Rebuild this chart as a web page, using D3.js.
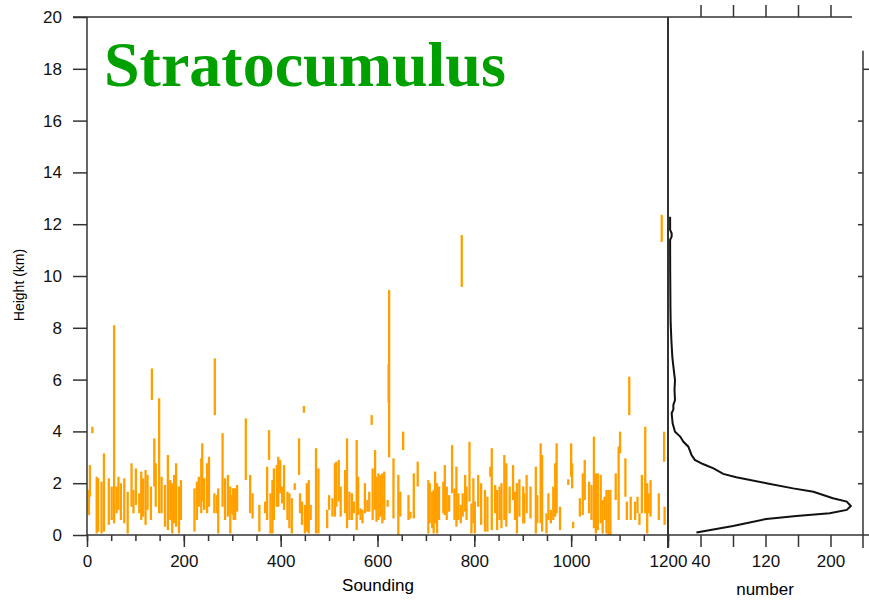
<!DOCTYPE html>
<html>
<head>
<meta charset="utf-8">
<style>
    body { margin: 0; background: #fff; }
    svg { display: block; }
    .axis path, .axis line { stroke: #333; stroke-width: 1.5; }
    .axis text { font-family: "Liberation Sans", Arial, sans-serif; font-size: 17px; fill: #111; }
</style>
</head>
<body>
<svg width="869" height="600"></svg>

<script src="https://d3js.org/d3.v7.min.js"></script>
<script>
// cloud layers per sounding: sounding number, base (km), top (km)
let barSounding = [4,6,11,20,23,30,35,45,51,56,61,65,70,77,84,92,96,101,108,112,116,121,125,132,134,139,142,149,154,161,
    167,172,176,180,184,190,194,222,227,231,236,238,242,248,252,263,264,268,271,280,285,291,296,297,302,303,306,310,328,337,
    342,356,368,372,376,379,383,386,392,395,399,403,407,414,418,423,429,438,440,444,448,450,454,458,462,473,478,496,500,507,
    512,515,520,524,533,537,542,547,551,557,560,565,569,574,579,583,588,590,595,598,602,606,610,614,621,623,624,633,643,647,
    653,664,668,675,683,705,708,713,716,719,723,727,736,739,743,748,754,759,763,767,772,774,776,781,784,790,794,798,801,808,
    814,822,827,833,836,843,847,852,856,862,866,873,880,884,888,893,901,903,908,916,927,930,937,940,949,953,958,963,967,970,
    977,994,1000,1002,1004,1018,1024,1028,1037,1042,1047,1051,1055,1061,1065,1069,1073,1077,1081,1092,1098,1101,1112,1115,1120,1123,1132,1137,1141,1146,
    1153,1157,1160,1164,1181,1187,1192,1193]
let barBase = [0.77,1.48,3.93,0.06,0.13,0.06,0.13,0.39,0.58,0.45,0.84,0.97,0.58,0.45,0.06,1.09,0.84,1.16,0.84,0.58,0.71,0.39,0.97,0.58,5.21,1.87,1.09,0.84,0.84,0.32,
    0.19,0.58,0.06,0.45,0.32,0.06,0.58,0.13,0.58,1.09,0.84,1.29,0.97,0.84,1.09,0.84,4.63,0.84,0.06,1.09,0.58,0.71,0.06,0.84,0.77,0.58,0.58,0.90,2.12,0.84,
    0.64,0.13,0.84,0.58,2.90,0.06,0.06,0.58,1.09,1.09,1.61,1.22,0.97,0.58,0.26,0.06,1.74,2.32,0.84,0.39,4.72,0.06,0.13,0.06,0.58,0.06,0.06,0.26,0.97,0.71,
    0.71,1.09,1.29,0.71,0.84,0.26,0.58,0.58,0.84,0.19,0.77,0.58,0.45,0.84,0.90,0.90,4.25,0.58,0.97,0.51,0.58,0.71,0.45,0.58,1.09,5.10,3.00,0.64,0.00,0.71,
    3.28,0.58,0.64,0.64,1.87,0.06,0.45,0.26,0.06,0.45,0.06,0.58,0.84,0.77,0.58,0.90,1.61,0.58,0.32,0.58,0.45,9.58,0.71,0.90,0.58,1.29,0.06,0.45,0.06,1.09,
    0.39,0.13,0.13,2.25,0.19,0.84,0.19,0.58,0.26,0.58,0.32,0.84,1.35,0.58,0.06,0.71,0.45,0.45,0.84,0.64,0.06,0.45,0.45,0.13,0.06,0.58,0.45,0.58,0.71,0.84,
    0.19,1.93,2.25,1.80,0.26,0.71,0.77,1.35,0.84,0.58,0.26,0.06,0.19,0.45,0.06,0.58,0.06,0.00,0.00,1.35,0.58,3.15,1.48,0.58,4.63,0.58,0.58,0.84,0.39,0.84,
    0.84,0.06,0.84,0.71,0.58,11.32,2.83,0.39]
let barTop = [1.74,2.70,4.18,2.25,2.19,2.06,3.15,2.19,1.87,8.10,1.87,2.25,2.00,2.19,1.67,2.77,1.74,2.57,1.61,2.45,2.19,2.51,2.32,1.87,6.43,3.73,2.77,5.28,2.25,1.93,
    3.09,2.12,2.00,2.32,2.77,1.87,2.12,1.80,2.06,2.25,2.96,3.54,2.19,2.77,3.02,1.61,6.82,1.54,1.80,3.93,2.19,2.32,1.87,1.54,1.80,1.80,1.80,1.93,4.50,2.32,
    1.61,1.16,1.29,2.64,4.05,1.61,2.12,2.57,2.70,3.02,2.90,1.87,2.70,1.67,1.61,1.42,2.00,3.73,1.61,1.29,4.98,1.16,2.00,2.12,1.16,3.35,2.57,0.97,1.54,1.42,
    2.77,2.83,2.90,1.87,2.51,3.73,1.67,1.61,1.29,3.67,2.25,1.03,0.97,2.00,1.35,1.67,4.63,2.57,3.28,2.25,2.38,2.32,2.38,2.45,1.35,6.60,9.46,2.96,2.32,1.67,
    3.99,1.54,0.90,2.38,2.83,2.12,2.00,1.67,1.74,2.45,2.00,1.87,2.06,2.70,1.87,1.54,3.47,1.80,2.64,1.61,1.16,11.58,1.61,2.32,1.87,3.60,1.22,2.19,1.29,2.32,
    2.00,1.74,1.48,2.64,3.35,1.93,1.74,1.87,2.00,3.09,2.77,1.87,2.70,1.67,2.00,2.15,1.87,1.61,2.32,1.87,2.64,1.54,3.54,3.09,0.84,1.61,0.97,1.87,2.77,3.54,
    1.09,2.15,3.54,2.77,0.51,1.42,2.38,2.90,2.06,1.93,3.80,2.38,2.38,2.32,1.35,1.48,1.74,1.74,1.74,2.38,3.41,3.99,2.96,1.29,6.11,1.48,1.29,1.48,0.84,2.32,
    4.18,2.00,1.61,2.12,1.61,12.36,3.99,1.09]

// number of cloud occurrences by height
let profileHeight = [0.10,0.35,0.62,0.73,0.84,0.97,1.12,1.29,1.42,1.67,1.80,2.00,2.23,2.36,2.57,2.74,2.90,3.09,3.41,3.60,
    3.80,3.99,4.31,4.70,4.85,5.02,5.21,5.60,5.98,6.40,6.88,7.50,8.17,8.80,9.33,10.2,11.13,11.40,11.52,11.65,11.78,12.29]
let profileNumber = [35,80,121,158,199,220,225,220,203,179,154,121,84,68,56,43,33,29,25,19,
    15,8.6,5.7,4.5,6.6,6.6,8.6,8.0,8.6,7.0,5.3,4.2,3.3,3.0,2.9,2.7,2.6,2.6,4.5,4.5,2.6,2.6]

let yTicks = [0,2,4,6,8,10,12,14,16,18,20]
let xMajor = [0,200,400,600,800,1000,1200]
let xMinor = d3.range(0, 1201, 50)
let nTicks = [40,80,120,160,200]
let nLabels = [40,120,200]

let svg = d3.select("svg")

let x = d3.scaleLinear().domain([0, 1200]).range([87, 668])
let y = d3.scaleLinear().domain([0, 20]).range([535, 17])
let xn = d3.scaleLinear().domain([0, 240]).range([668, 863])

// bars
svg.append("g")
    .selectAll("line")
    .data(barSounding)
    .join("line")
    .attr("x1", d => x(d))
    .attr("x2", d => x(d))
    .attr("y1", (d, i) => y(barBase[i]))
    .attr("y2", (d, i) => y(barTop[i]))
    .style("stroke", "#ffa000")
    .style("stroke-width", 2.3)

// left axis
let yAxis = svg.append("g").attr("class", "axis")
    .attr("transform", "translate(87,0)")
    .call(d3.axisLeft(y).tickValues(yTicks).tickSize(14).tickSizeOuter(0).tickPadding(11))
yAxis.select(".domain").remove()

// bottom axis, minor then major
let xMin = svg.append("g").attr("class", "axis")
    .attr("transform", "translate(0,535)")
    .call(d3.axisBottom(x).tickValues(xMinor).tickSize(6).tickFormat(""))
xMin.select(".domain").remove()
let xAx = svg.append("g").attr("class", "axis")
    .attr("transform", "translate(0,535)")
    .call(d3.axisBottom(x).tickValues(xMajor).tickSize(12).tickPadding(8).tickFormat(d3.format("d")))
xAx.select(".domain").remove()

// right panel bottom axis
let nAx = svg.append("g").attr("class", "axis")
    .attr("transform", "translate(0,535)")
    .call(d3.axisBottom(xn).tickValues(nTicks).tickSize(12).tickPadding(8)
        .tickFormat(d => nLabels.includes(d) ? d : ""))
nAx.select(".domain").remove()

// right panel top ticks
let nTop = svg.append("g").attr("class", "axis")
    .attr("transform", "translate(0,17)")
    .call(d3.axisTop(xn).tickValues(nTicks).tickSize(12).tickFormat(""))
nTop.select(".domain").remove()

// frame lines
let frame = svg.append("g").style("stroke", "#333").style("stroke-width", 1.5)
frame.append("line").attr("x1", 87).attr("x2", 87).attr("y1", 17).attr("y2", 535)
frame.append("line").attr("x1", 73).attr("x2", 852).attr("y1", 17).attr("y2", 17)
frame.append("line").attr("x1", 87).attr("x2", 869).attr("y1", 535).attr("y2", 535)
frame.append("line").attr("x1", 668).attr("x2", 668).attr("y1", 17).attr("y2", 548).style("stroke-width", 2)
frame.append("line").attr("x1", xn(240)).attr("x2", xn(240)).attr("y1", y(18.7)).attr("y2", 548)

// inner ticks on right edge
let rAx = svg.append("g").attr("class", "axis")
    .attr("transform", `translate(${xn(240)},0)`)
    .call(d3.axisLeft(y).tickValues([2,4,6,8,10,12,14,16]).tickSize(5).tickFormat(""))
rAx.select(".domain").remove()
let rAx2 = svg.append("g").attr("class", "axis")
    .attr("transform", `translate(${xn(240)},0)`)
    .call(d3.axisRight(y).tickValues([18]).tickSize(6).tickFormat(""))
rAx2.select(".domain").remove()

// profile line
let line = d3.line()
    .x((d, i) => xn(profileNumber[i]))
    .y(d => y(d))
svg.append("path")
    .attr("d", line(profileHeight))
    .style("fill", "none")
    .style("stroke", "#111")
    .style("stroke-width", 2)

// labels
svg.append("text")
    .attr("transform", "translate(24,285) rotate(-90)")
    .attr("text-anchor", "middle")
    .style("font-family", "Liberation Sans, Arial, sans-serif")
    .style("font-size", "14px")
    .text("Height (km)")

svg.append("text")
    .attr("x", 378).attr("y", 591)
    .attr("text-anchor", "middle")
    .style("font-family", "Liberation Sans, Arial, sans-serif")
    .style("font-size", "17px")
    .text("Sounding")

svg.append("text")
    .attr("x", 765).attr("y", 595)
    .attr("text-anchor", "middle")
    .style("font-family", "Liberation Sans, Arial, sans-serif")
    .style("font-size", "17px")
    .text("number")

svg.append("text")
    .attr("x", 104).attr("y", 86)
    .style("font-family", "Liberation Serif, Times New Roman, serif")
    .style("font-weight", "bold")
    .style("font-size", "64px")
    .style("fill", "#00a000")
    .text("Stratocumulus")
</script>
</body>
</html>
